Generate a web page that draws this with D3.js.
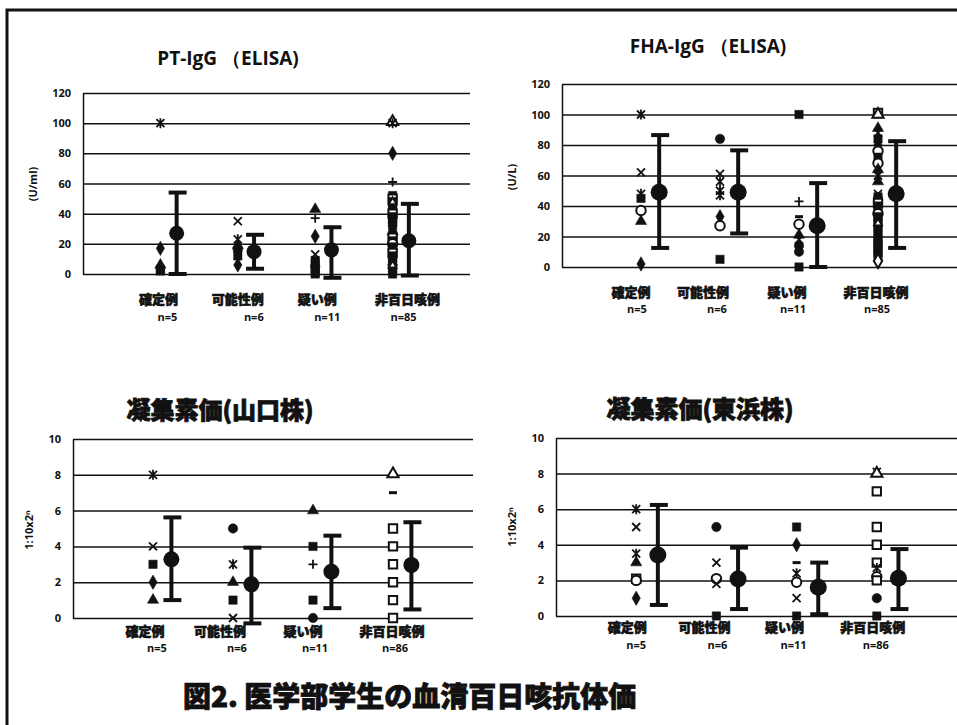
<!DOCTYPE html>
<html>
<head>
<meta charset="utf-8">
<script src="https://cdn.jsdelivr.net/npm/d3@7"></script>
<style>
body { margin: 0; background: #fff; }
text { fill: #111; }
</style>
</head>
<body>
<div id="main"></div>
<script>
// =========================== data ===========================
var categories = ['確定例', '可能性例', '疑い例', '非百日咳例'];
var nLabelsElisa = ['n=5', 'n=6', 'n=11', 'n=85'];
var nLabelsAgg = ['n=5', 'n=6', 'n=11', 'n=86'];
var elisaTicks = [0, 20, 40, 60, 80, 100, 120];
var aggTicks = [0, 2, 4, 6, 8, 10];

// PT-IgG (ELISA), U/ml
var ptValues = [
	[100, 17, 6, 3, 2],
	[35, 23, 19, 16, 12, 6],
	[43, 37, 25, 13, 9, 7, 5, 3, 2, 1, 0],
	[101, 100, 80, 61, 52, 50, 48, 46, 44, 42, 40, 38, 36, 34, 32, 30, 28, 26, 24, 22, 20, 18, 16, 14, 12, 10, 8, 6, 4, 2, 0]
];
var ptMarks = [
	['star', 'diamond', 'triangle', 'square', 'square'],
	['x', 'star', 'triangle', 'circle', 'square', 'diamond'],
	['triangle', 'plus', 'diamond', 'x', 'square', 'square', 'circle', 'square', 'dash', 'square', 'square'],
	['otriangle', 'star', 'diamond', 'plus', 'square', 'osquare', 'square', 'odiamond', 'square', 'square', 'osquare', 'square', 'square', 'square', 'square', 'star', 'triangle', 'square', 'osquare', 'square', 'ocircle', 'square', 'square', 'osquare', 'square', 'square', 'square', 'odiamond', 'odiamond', 'square', 'square']
];
var ptMean = [27, 14.8, 16, 22];
var ptLow = [0, 3.5, -2.5, -1];
var ptHigh = [54, 26, 31, 46.5];

// FHA-IgG (ELISA), U/L
var fhaValues = [
	[100, 62, 48, 45, 37, 30, 2],
	[84, 61, 56, 50, 47, 33, 27, 5],
	[100, 43, 33, 28, 21, 18, 14, 10, 0],
	[101, 100, 91, 88, 84, 80, 76, 72, 68, 64, 60, 56, 48, 46, 44, 42, 40, 38, 35, 33, 31, 29, 27, 25, 23, 21, 19, 17, 15, 13, 11, 9, 7, 4]
];
var fhaMarks = [
	['star', 'x', 'star', 'square', 'ocircle', 'triangle', 'diamond'],
	['circle', 'x', 'star', 'star', 'star', 'diamond', 'ocircle', 'square'],
	['square', 'plus', 'dash', 'ocircle', 'triangle', 'star', 'circle', 'circle', 'square'],
	['osquare', 'otriangle', 'triangle', 'star', 'square', 'diamond', 'ocircle', 'square', 'ocircle', 'triangle', 'star', 'triangle', 'x', 'square', 'square', 'osquare', 'square', 'square', 'ocircle', 'square', 'square', 'square', 'odiamond', 'square', 'square', 'dash', 'square', 'square', 'square', 'square', 'square', 'square', 'square', 'odiamond']
];
var fhaMean = [49, 49, 27, 48];
var fhaLow = [12.5, 22, 0, 12.5];
var fhaHigh = [86.5, 76.5, 55, 82.5];

// agglutinin titre, Yamaguchi strain
var yamaValues = [
	[8, 4, 3, 2, 1],
	[5, 3, 2, 1, 0],
	[6, 4, 3, 1, 0],
	[8.05, 7, 5, 4, 3, 2, 1, 0]
];
var yamaMarks = [
	['star', 'x', 'square', 'diamond', 'triangle'],
	['circle', 'star', 'triangle', 'square', 'x'],
	['triangle', 'square', 'plus', 'square', 'circle'],
	['otriangle', 'dash', 'osquare', 'osquare', 'osquare', 'osquare', 'osquare', 'osquare']
];
var yamaMean = [3.28, 1.88, 2.59, 2.96];
var yamaLow = [1.0, -0.3, 0.55, 0.48];
var yamaHigh = [5.62, 3.93, 4.6, 5.35];

// agglutinin titre, Tohama strain
var tohaValues = [
	[6, 5, 3.5, 3, 2.1, 2, 1],
	[5, 3, 2.1, 1.8, 0],
	[5, 4, 3, 2.4, 1.9, 1, 0],
	[8.1, 8, 7, 5, 4, 3, 2.7, 2.2, 2, 1, 0]
];
var tohaMarks = [
	['star', 'x', 'star', 'triangle', 'osquare', 'ocircle', 'diamond'],
	['circle', 'x', 'ocircle', 'x', 'square'],
	['square', 'diamond', 'dash', 'star', 'ocircle', 'x', 'square'],
	['star', 'otriangle', 'osquare', 'osquare', 'osquare', 'osquare', 'star', 'ocircle', 'osquare', 'circle', 'square']
];
var tohaMean = [3.43, 2.08, 1.61, 2.12];
var tohaLow = [0.62, 0.39, 0.1, 0.39];
var tohaHigh = [6.24, 3.84, 3.0, 3.76];

// =========================== layout ===========================
const svgResolution = { width: 957, height: 725 };
const cjk = '"Noto Sans CJK JP", sans-serif';
const latin = '"Open Sans", "Noto Sans", sans-serif';

var panels = [
	{ title: 'PT-IgG （ELISA)', yTitle: '(U/ml)', values: ptValues, marks: ptMarks,
	  mean: ptMean, low: ptLow, high: ptHigh, ticks: elisaTicks, nLabels: nLabelsElisa,
	  x0: 83, x1: 470, yTop: 93, yBot: 274, titleX: 228, titleY: 60, titleFont: latin, titleSize: 19,
	  yTitleX: 34, yTitleY: 184, catY: 300, nY: 318, meanShift: 0.21, meanR: 7.5,
	  catShift: [-2, 0, 2, 15], nShift: [7, 16, 12, 11] },
	{ title: 'FHA-IgG （ELISA)', yTitle: '(U/L)', values: fhaValues, marks: fhaMarks,
	  mean: fhaMean, low: fhaLow, high: fhaHigh, ticks: elisaTicks, nLabels: nLabelsElisa,
	  x0: 562, x1: 957, yTop: 84, yBot: 267, titleX: 708, titleY: 48, titleFont: latin, titleSize: 19,
	  yTitleX: 513, yTitleY: 177, catY: 293, nY: 310, meanShift: 0.23, meanR: 8.5,
	  catShift: [-10, -17, -12, -2], nShift: [-4, -3, -6, -1] },
	{ title: '凝集素価(山口株)', yTitle: '1:10x2ⁿ', values: yamaValues, marks: yamaMarks,
	  mean: yamaMean, low: yamaLow, high: yamaHigh, ticks: aggTicks, nLabels: nLabelsAgg,
	  x0: 73, x1: 473, yTop: 439, yBot: 618, titleX: 220, titleY: 412, titleFont: cjk, titleSize: 24,
	  yTitleX: 30, yTitleY: 530, catY: 632, nY: 649, meanShift: 0.23, meanR: 8,
	  catShift: [-8, -13, -10, -1], nShift: [4, 4, 2, 2] },
	{ title: '凝集素価(東浜株)', yTitle: '1:10x2ⁿ', values: tohaValues, marks: tohaMarks,
	  mean: tohaMean, low: tohaLow, high: tohaHigh, ticks: aggTicks, nLabels: nLabelsAgg,
	  x0: 556, x1: 957, yTop: 438, yBot: 616, titleX: 700, titleY: 411, titleFont: cjk, titleSize: 24,
	  yTitleX: 513, yTitleY: 527, catY: 628, nY: 646, meanShift: 0.27, meanR: 8.5,
	  catShift: [-9, -12, -12, -4], nShift: [0, 1, -3, -1] }
];

// ======================= svg container =======================
const svgContainer = d3.select('#main').append('svg')
	.attr('width', svgResolution.width)
	.attr('height', svgResolution.height)
	.style('display', 'block')
	.style('background', '#fff');

// scanned page frame (left + top edge)
svgContainer.append('path')
	.attr('d', 'M7,725V10H957')
	.attr('fill', 'none')
	.attr('stroke', '#111')
	.attr('stroke-width', 3);

panels.forEach(drawPanel);

// figure caption
svgContainer.append('text')
	.attr('x', 183).attr('y', 707)
	.style('font-family', cjk)
	.style('font-weight', 900)
	.style('font-size', '28px')
	.attr('stroke', '#111').attr('stroke-width', 0.8)
	.text('図2. 医学部学生の血清百日咳抗体価');

// ======================= functions =======================
// marker shapes, roughly like the excel defaults
function markerPath(type) {
	switch (type) {
		case 'x': return 'M-4,-4L4,4M-4,4L4,-4';
		case 'star': return 'M-4,-4L4,4M-4,4L4,-4M0,-5L0,5';
		case 'plus': return 'M-4.5,0L4.5,0M0,-4.5L0,4.5';
		case 'dash': return 'M-4,0L4,0';
		case 'diamond': case 'odiamond': return d3.symbol(d3.symbolDiamond, 60)();
		case 'triangle': case 'otriangle': return d3.symbol(d3.symbolTriangle, 55)();
		case 'circle': case 'ocircle': return d3.symbol(d3.symbolCircle, 70)();
		default: return d3.symbol(d3.symbolSquare, 70)();
	}
}

function styleMarker(sel, type) {
	var lineType = ['x', 'star', 'plus', 'dash'].indexOf(type) >= 0;
	var open = type.charAt(0) == 'o';
	sel.attr('fill', lineType ? 'none' : (open ? '#fff' : '#111'))
		.attr('stroke', '#111')
		.attr('stroke-width', lineType ? (type == 'dash' ? 3 : 1.8) : (open ? 2 : 0.5));
}

function drawPanel(p) {
	var g = svgContainer.append('g');
	var x = d3.scaleLinear().domain([0, 5]).range([p.x0, p.x1]);
	var y = d3.scaleLinear().domain([0, p.ticks[p.ticks.length - 1]]).range([p.yBot, p.yTop]);

	// gridlines + tick labels through the axis generator
	var axis = g.append('g')
		.attr('transform', 'translate(' + p.x0 + ',0)')
		.call(d3.axisLeft(y).tickValues(p.ticks).tickSize(-(p.x1 - p.x0)).tickSizeOuter(0).tickPadding(12));
	axis.select('.domain').attr('stroke', '#111').attr('stroke-width', 1.5);
	axis.selectAll('.tick line').attr('stroke', '#111').attr('stroke-width', 1.5);
	axis.selectAll('.tick text')
		.style('font-family', latin).style('font-weight', 700).style('font-size', '11px').attr('fill', '#111');

	// title
	var t = g.append('text')
		.attr('x', p.titleX).attr('y', p.titleY)
		.attr('text-anchor', 'middle').attr('dominant-baseline', 'middle')
		.style('font-family', p.titleFont)
		.style('font-weight', p.titleFont == cjk ? 900 : 700)
		.style('font-size', p.titleSize + 'px')
		.text(p.title);
	// the japanese titles are printed in a very heavy face
	if (p.titleFont == cjk) t.attr('stroke', '#111').attr('stroke-width', 0.8);

	// y axis title
	g.append('text')
		.attr('transform', 'translate(' + p.yTitleX + ',' + p.yTitleY + ') rotate(-90)')
		.attr('text-anchor', 'middle').attr('dominant-baseline', 'middle')
		.style('font-family', latin).style('font-weight', 700).style('font-size', '11px')
		.text(p.yTitle);

	// category + n labels
	g.selectAll('text.cat').data(categories).enter().append('text')
		.attr('class', 'cat')
		.attr('x', (d, i) => x(i + 1) + p.catShift[i]).attr('y', p.catY)
		.attr('text-anchor', 'middle').attr('dominant-baseline', 'middle')
		.style('font-family', cjk).style('font-weight', 900).style('font-size', '13px')
		.attr('stroke', '#111').attr('stroke-width', 0.6)
		.text(d => d);
	g.selectAll('text.nlab').data(p.nLabels).enter().append('text')
		.attr('class', 'nlab')
		.attr('x', (d, i) => x(i + 1) + p.nShift[i]).attr('y', p.nY)
		.attr('text-anchor', 'middle').attr('dominant-baseline', 'middle')
		.style('font-family', latin).style('font-weight', 700).style('font-size', '11px')
		.text(d => d);

	// individual values
	p.values.forEach(function(vals, i) {
		g.selectAll(null).data(vals).enter().append('path')
			.attr('transform', d => 'translate(' + x(i + 1) + ',' + y(d) + ')')
			.attr('d', (d, j) => markerPath(p.marks[i][j]))
			.each(function(d, j) { styleMarker(d3.select(this), p.marks[i][j]); });
	});

	// mean +- sd
	var eb = g.selectAll('g.eb').data(p.mean).enter().append('g').attr('class', 'eb');
	eb.append('line')
		.attr('x1', (d, i) => x(i + 1 + p.meanShift)).attr('x2', (d, i) => x(i + 1 + p.meanShift))
		.attr('y1', (d, i) => y(p.low[i])).attr('y2', (d, i) => y(p.high[i]))
		.attr('stroke', '#111').attr('stroke-width', 4);
	[p.low, p.high].forEach(function(arr) {
		eb.append('line')
			.attr('x1', (d, i) => x(i + 1 + p.meanShift) - 8).attr('x2', (d, i) => x(i + 1 + p.meanShift) + 10)
			.attr('y1', (d, i) => y(arr[i])).attr('y2', (d, i) => y(arr[i]))
			.attr('stroke', '#111').attr('stroke-width', 4);
	});
	eb.append('circle')
		.attr('cx', (d, i) => x(i + 1 + p.meanShift)).attr('cy', d => y(d))
		.attr('r', p.meanR).attr('fill', '#111');
}
</script>
</body>
</html>
